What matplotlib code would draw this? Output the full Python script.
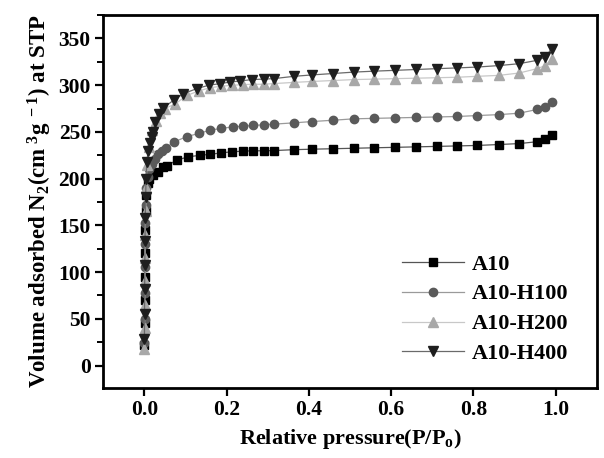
import numpy as np
import matplotlib
matplotlib.use("Agg")
import matplotlib.pyplot as plt
from matplotlib.ticker import MultipleLocator

plt.rcParams["font.family"] = ["Liberation Serif", "DejaVu Serif"]
plt.rcParams["font.weight"] = "bold"
plt.rcParams["mathtext.fontset"] = "custom"
plt.rcParams["mathtext.rm"] = "Liberation Serif:bold"
plt.rcParams["mathtext.it"] = "Liberation Serif:bold"
plt.rcParams["mathtext.bf"] = "Liberation Serif:bold"
plt.rcParams["mathtext.default"] = "rm"

# Nitrogen sorption isotherms
x_a10 = [0.0001, 0.0003, 0.0006, 0.001, 0.0015, 0.002, 0.003, 0.005, 0.008, 0.012,
         0.022, 0.034, 0.046, 0.055, 0.079, 0.107, 0.136, 0.16, 0.187, 0.213, 0.239,
         0.265, 0.29, 0.314, 0.364, 0.408, 0.459, 0.509, 0.558, 0.61, 0.661, 0.712,
         0.761, 0.809, 0.862, 0.911, 0.955, 0.973, 0.992]
y_a10 = [22, 45, 70, 95, 120, 145, 165, 182, 195, 200,
         204, 207, 212.7, 214, 219.8, 223.4, 225, 226, 227.6, 228.7, 229.4,
         229.8, 229.8, 230, 231, 231.5, 232, 232.5, 233, 233.5, 234, 234.5,
         235, 235.5, 236.5, 237.5, 239.5, 242, 247]

x_h100 = [0.0001, 0.0003, 0.0006, 0.001, 0.0015, 0.002, 0.003, 0.005, 0.008, 0.012,
          0.018, 0.025, 0.033, 0.042, 0.053, 0.071, 0.103, 0.132, 0.16, 0.186, 0.215,
          0.24, 0.265, 0.29, 0.314, 0.364, 0.408, 0.459, 0.509, 0.558, 0.61, 0.661,
          0.712, 0.761, 0.809, 0.862, 0.911, 0.955, 0.975, 0.99]
y_h100 = [24, 50, 78, 105, 130, 152, 172, 190, 202, 210,
          216, 221, 226, 230, 233, 239, 245, 248.3, 251.9, 253.7, 255.4,
          256.1, 256.9, 257.6, 258.3, 259.7, 261.1, 262.5, 264, 264.5, 265, 265.5,
          266, 266.5, 267.5, 268.5, 270, 274, 277, 282]

x_h200 = [0.0001, 0.0003, 0.0006, 0.001, 0.0015, 0.002, 0.003, 0.004, 0.006, 0.01,
          0.018, 0.028, 0.038, 0.05, 0.075, 0.103, 0.132, 0.16, 0.186, 0.213, 0.239,
          0.265, 0.29, 0.314, 0.364, 0.408, 0.459, 0.509, 0.558, 0.61, 0.661, 0.712,
          0.761, 0.809, 0.862, 0.911, 0.955, 0.975, 0.99]
y_h200 = [18, 40, 65, 90, 115, 140, 165, 190, 215, 234,
          252, 262, 270, 275, 280, 289, 293.8, 297.4, 298.8, 299.9, 300.6,
          301, 301, 301.7, 303, 304, 305, 306, 306.5, 307, 307.5, 308,
          308.5, 309.5, 310.5, 313, 317.7, 321, 328]

x_h400 = [0.0001, 0.0003, 0.0006, 0.001, 0.0015, 0.002, 0.003, 0.004, 0.006, 0.009,
          0.013, 0.018, 0.022, 0.026, 0.036, 0.046, 0.071, 0.095, 0.128, 0.156, 0.184,
          0.209, 0.233, 0.261, 0.29, 0.314, 0.364, 0.408, 0.459, 0.509, 0.558, 0.61,
          0.661, 0.712, 0.761, 0.809, 0.862, 0.911, 0.955, 0.975, 0.99]
y_h400 = [28, 55, 82, 108, 133, 158, 180, 200, 218, 230,
          238, 245, 250, 260.7, 269.7, 275.7, 283.9, 291, 296.4, 299.9, 301.7,
          303.4, 304.5, 306, 306.5, 307, 309.5, 311, 312.5, 314, 315, 315.9,
          316.8, 317.7, 318.5, 319.4, 321, 323, 326.6, 330, 339]

series = [
    ("A10", x_a10, y_a10, "s", 5.5, "#000000", "#555555"),
    ("A10-H100", x_h100, y_h100, "o", 6.0, "#5a5a5a", "#9a9a9a"),
    ("A10-H200", x_h200, y_h200, "^", 6.5, "#a8a8a8", "#c8c8c8"),
    ("A10-H400", x_h400, y_h400, "v", 6.5, "#1e1e1e", "#6a6a6a"),
]

fig, ax = plt.subplots(figsize=(6.04, 4.58), dpi=100)
fig.subplots_adjust(left=0.171, right=0.988, top=0.967, bottom=0.153)

for name, xs, ys, mk, ms, mc, lc in series:
    ax.plot(xs, ys, color=lc, lw=0.9, marker=mk, ms=ms,
            mfc=mc, mec=mc, label=name)

ax.set_xlim(-0.1, 1.1)
ax.set_ylim(-24, 375)
ax.yaxis.set_major_locator(MultipleLocator(50))
ax.yaxis.set_minor_locator(MultipleLocator(25))
ax.set_xticks(np.arange(0, 1.01, 0.2))
ax.set_xticklabels(["0.0", "0.2", "0.4", "0.6", "0.8", "1.0"])

for s in ax.spines.values():
    s.set_linewidth(2)
ax.tick_params(axis="both", which="major", direction="out", length=6, width=1.6,
               labelsize=15.5, pad=3)
ax.tick_params(axis="y", which="minor", direction="out", length=4, width=1.4)

ax.set_xlabel("Relative pressure(P/P$_o$)", fontsize=16, fontweight="bold", labelpad=5)
ax.set_ylabel(r"Volume adsorbed N$_2$(cm$^{\ 3}$g$^{\ -1}$) at STP", fontsize=16.5,
              fontweight="bold", labelpad=3)

leg = ax.legend(loc="lower right", bbox_to_anchor=(0.983, 0.01), frameon=False,
                numpoints=1, fontsize=16, handlelength=2.8, labelspacing=0.42,
                handletextpad=0.35)

fig.savefig("out.png", dpi=100)
